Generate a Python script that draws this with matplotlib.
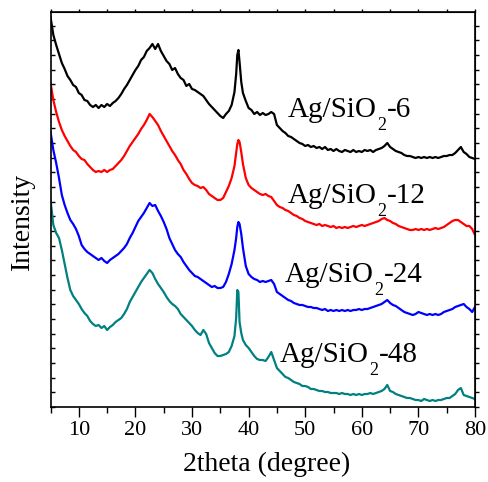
import numpy as np
import matplotlib.pyplot as plt
from matplotlib.ticker import MultipleLocator

plt.rcParams['font.family'] = ['Liberation Serif', 'DejaVu Serif']

# 2theta sampling grid (degree)
two_theta = np.concatenate([np.arange(5.0, 37.51, 0.5),
                            [37.8, 38.0, 38.2, 38.4, 38.7],
                            np.arange(39.0, 80.01, 0.5)])

# intensities (arbitrary units, curves already offset)
ag_6 = [390, 372, 362, 353, 344, 338, 331, 327, 322, 320, 314, 312, 307, 306, 302, 300,
        302, 299, 302, 300, 303, 301, 304, 306, 309, 313, 318, 322, 327, 332, 337, 341,
        347, 350, 356, 359, 363, 358, 363, 356, 351, 346, 343, 337, 339, 333, 329, 327,
        321, 323, 318, 317, 315, 313, 311, 307, 303, 300, 297, 294, 291, 289, 293, 296,
        302, 315,
        333, 352, 357, 345, 325,
        314, 306, 299, 297, 293, 295, 292, 294, 292, 293, 295, 293, 282, 279, 276, 274,
        271, 270, 268, 266, 264, 263, 261, 262, 260, 261, 259, 260, 258, 260, 257, 258,
        256, 258, 256, 255, 257, 256, 255, 257, 255, 256, 255, 257, 256, 257, 255, 257,
        258, 259, 261, 264, 260, 258, 256, 255, 254, 252, 251, 251, 250, 249, 250, 249,
        250, 249, 250, 249, 250, 249, 250, 251, 251, 252, 252, 254, 257, 260, 255, 253,
        250, 249, 248]
ag_12 = [324, 307, 295, 285, 277, 271, 266, 261, 257, 255, 251, 248, 247, 243, 240, 237,
         235, 236, 235, 237, 235, 237, 238, 241, 244, 247, 251, 256, 261, 265, 269, 273,
         278, 282, 287, 293, 290, 286, 282, 276, 271, 266, 261, 256, 252, 247, 243, 237,
         233, 228, 224, 222, 221, 219, 220, 217, 213, 211, 209, 207, 207, 209, 215, 221,
         229, 241,
         254, 263, 267, 265, 255,
         243, 229, 222, 219, 217, 215, 213, 212, 213, 211, 210, 206, 202, 200, 199, 197,
         196, 194, 192, 191, 189, 188, 186, 185, 184, 183, 182, 183, 181, 182, 181, 180,
         181, 179, 180, 179, 180, 179, 180, 181, 180, 181, 182, 181, 182, 183, 184, 185,
         186, 188, 189, 187, 186, 184, 183, 181, 180, 179, 178, 177, 177, 178, 177, 178,
         177, 178, 177, 178, 179, 178, 179, 180, 182, 184, 186, 187, 187, 185, 183, 181,
         181, 178, 172]
ag_24 = [275, 257, 244, 229, 212, 202, 194, 187, 183, 178, 171, 162, 158, 155, 153, 151,
         149, 147, 149, 146, 144, 147, 149, 151, 153, 156, 159, 163, 169, 174, 180, 186,
         190, 194, 199, 204, 201, 202, 196, 191, 185, 178, 169, 163, 157, 153, 150, 145,
         141, 137, 134, 131, 130, 128, 126, 124, 122, 120, 121, 119, 119, 120, 125, 133,
         143, 157,
         169, 180, 185, 183, 173,
         159, 141, 133, 130, 128, 127, 125, 126, 125, 126, 127, 123, 115, 113, 111, 109,
         107, 106, 104, 103, 102, 102, 101, 100, 100, 99, 99, 98, 97, 98, 96, 97,
         96, 97, 96, 97, 96, 97, 96, 97, 97, 98, 97, 98, 98, 99, 100, 101,
         102, 103, 105, 107, 104, 102, 101, 99, 97, 95, 94, 93, 92, 93, 95, 94,
         93, 92, 93, 92, 93, 92, 93, 95, 96, 97, 98, 100, 101, 102, 103, 100,
         98, 95, 100]
ag_48 = [207, 182, 174, 169, 157, 143, 129, 117, 111, 107, 103, 98, 94, 91, 86, 83,
         81, 82, 79, 81, 77, 80, 82, 85, 87, 89, 93, 98, 105, 110, 115, 120,
         125, 129, 133, 137, 134, 128, 123, 119, 115, 110, 106, 103, 101, 98, 93, 90,
         87, 84, 81, 77, 74, 72, 77, 73, 64, 59, 54, 51, 51, 52, 53, 55,
         61, 71,
         89, 117, 115, 85, 74,
         67, 62, 59, 55, 51, 48, 47, 47, 46, 50, 55, 47, 39, 36, 33, 30,
         29, 27, 25, 24, 23, 21, 21, 20, 18, 18, 17, 16, 16, 15, 15, 14,
         14, 14, 13, 14, 13, 13, 12, 13, 12, 13, 12, 13, 13, 14, 13, 14,
         15, 16, 18, 22, 16, 15, 13, 12, 11, 10, 9, 9, 8, 7, 7, 6,
         8, 7, 6, 7, 6, 7, 7, 8, 9, 9, 11, 13, 17, 19, 12, 11,
         10, 9, 8]

series = [ag_6, ag_12, ag_24, ag_48]
suffixes = ['-6', '-12', '-24', '-48']
colors = ['black', 'red', 'blue', '#008080']
label_x = [46.9, 46.9, 46.4, 45.5]
label_y = [290, 204, 125, 45]

for s in series:
	assert len(s) == len(two_theta), len(s)

fig = plt.figure(figsize=(4.89, 4.82), dpi=100)
ax = fig.add_axes([0.1033, 0.1556, 0.8681, 0.8195])

for s, c in zip(series, colors):
	ax.plot(two_theta, s, color=c, lw=1.6)

ax.set_xlim(5, 80)
ax.set_ylim(0, 395)
ax.xaxis.set_major_locator(MultipleLocator(10))
ax.xaxis.set_minor_locator(MultipleLocator(5))
ax.yaxis.set_major_locator(MultipleLocator(14.67))
ax.tick_params(axis='x', which='major', direction='out', length=7, width=1, labelsize=16, pad=3)
ax.tick_params(axis='x', which='minor', direction='out', length=4, width=1)
ax.tick_params(axis='y', which='major', direction='in', length=3, width=1, labelleft=False)
for sp in ax.spines.values():
	sp.set_linewidth(1.2)

top = ax.secondary_xaxis('top')
top.xaxis.set_major_locator(MultipleLocator(5))
top.tick_params(direction='out', length=2, width=1, labeltop=False)
right = ax.secondary_yaxis('right')
right.yaxis.set_major_locator(MultipleLocator(14.67))
right.tick_params(direction='out', length=3, width=1, labelright=False)

ax.set_xlabel('2theta (degree)', fontsize=20)
ax.set_ylabel('Intensity', fontsize=20)
ax.xaxis.set_label_coords(0.51, -0.114)
ax.yaxis.set_label_coords(-0.036, 0.47)

# sample labels: subscript 2 sits fully below the baseline, so build it in pieces
r = fig.canvas.get_renderer()
to_pt = 72.0 / fig.dpi
for suf, lx, ly in zip(suffixes, label_x, label_y):
	t1 = ax.text(lx, ly, 'Ag/SiO', fontsize=21, va='baseline', ha='left')
	w1 = t1.get_window_extent(r).width * to_pt
	t2 = ax.annotate('2', (lx, ly), xytext=(w1 + 0.5, -9), textcoords='offset points',
	                 fontsize=13, va='baseline', ha='left')
	w2 = t2.get_window_extent(r).width * to_pt
	ax.annotate(suf, (lx, ly), xytext=(w1 + w2 + 1, 0), textcoords='offset points',
	            fontsize=21, va='baseline', ha='left')

plt.savefig('out.png', dpi=100)
